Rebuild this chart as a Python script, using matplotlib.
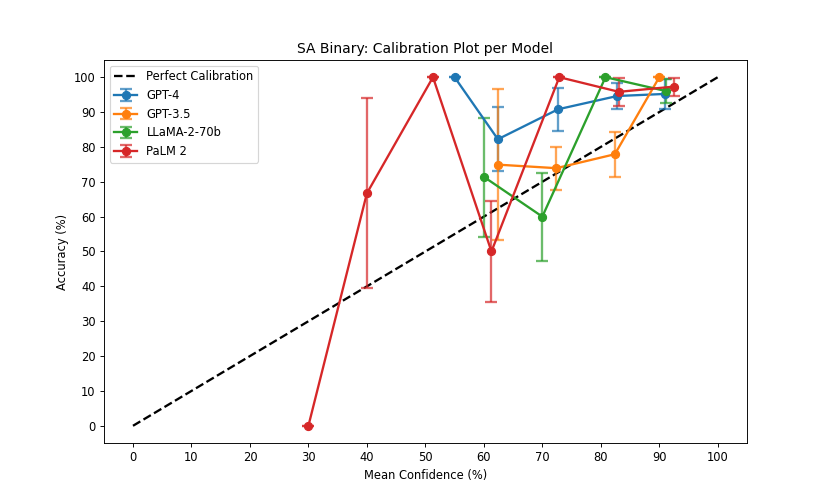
import numpy as np
import matplotlib
matplotlib.use("Agg")
import matplotlib.pyplot as plt

# calibration data per model
gpt4_conf = [55.0, 62.4, 72.7, 82.8, 91.0]
gpt4_acc = [100.0, 82.2, 90.8, 94.6, 95.2]
gpt4_err = [0.0, 9.2, 6.2, 3.6, 4.2]

gpt35_conf = [62.5, 72.4, 82.4, 90.0]
gpt35_acc = [74.9, 73.9, 77.9, 100.0]
gpt35_err = [21.7, 6.2, 6.5, 0.0]

llama_conf = [60.1, 70.0, 80.8, 91.2]
llama_acc = [71.3, 60.0, 100.0, 96.0]
llama_err = [17.0, 12.6, 0.0, 3.4]

palm_conf = [30.0, 40.0, 51.3, 61.3, 72.9, 83.1, 92.5]
palm_acc = [0.0, 66.7, 100.0, 50.0, 100.0, 95.8, 97.3]
palm_err = [0.0, 27.2, 0.0, 14.4, 0.0, 4.0, 2.6]

models = ["GPT-4", "GPT-3.5", "LLaMA-2-70b", "PaLM 2"]
series = [
    (gpt4_conf, gpt4_acc, gpt4_err),
    (gpt35_conf, gpt35_acc, gpt35_err),
    (llama_conf, llama_acc, llama_err),
    (palm_conf, palm_acc, palm_err),
]

fig, ax = plt.subplots(figsize=(10, 6), dpi=83)

ax.plot([0, 100], [0, 100], "k--", linewidth=2, label="Perfect Calibration")

for name, (conf, acc, err) in zip(models, series):
    cont = ax.errorbar(conf, acc, yerr=err, fmt="-o", capsize=5,
                       capthick=2, linewidth=2, markersize=7, label=name)
    # error bars a bit lighter than the line itself
    for cap in cont[1]:
        cap.set_alpha(0.7)
    for bar in cont[2]:
        bar.set_alpha(0.7)

ax.set_xticks(np.arange(0, 101, 10))
ax.set_yticks(np.arange(0, 101, 10))
ax.set_xlabel("Mean Confidence (%)")
ax.set_ylabel("Accuracy (%)")
ax.set_title("SA Binary: Calibration Plot per Model")
ax.legend(loc="upper left")

fig.savefig("out.png")
